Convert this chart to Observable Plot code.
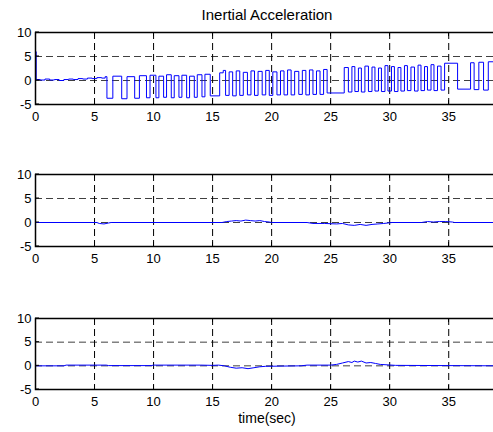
<!DOCTYPE html>
<html><head><meta charset="utf-8">
<script src="https://cdn.jsdelivr.net/npm/d3@7"></script>
<script src="https://cdn.jsdelivr.net/npm/@observablehq/plot@0.6"></script>
<style>
html,body{margin:0;padding:0;background:#fff;overflow:hidden}
#chart{position:relative;width:493px;height:432px;overflow:hidden;font-family:"Liberation Sans",Arial,sans-serif;color:#000;background:#fff}
.panel{position:absolute;left:0;max-width:none !important}
.lbl{position:absolute;left:35px;width:464px;text-align:center;white-space:nowrap;color:#000}
</style></head><body>
<div id="chart"></div>
<script>
// ---- tick labels / axes ----
const xTicks = [0, 5, 10, 15, 20, 25, 30, 35];
const yTicks = [-5, 0, 5, 10];
const xDomain = [0, 39.3];
const yDomain = [-5, 10];
const titleText = "Inertial Acceleration";
const xLabelText = "time(sec)";

// ---- panel 1: square-wave-like signal (transition times and level after each) ----
const accXTime = [0, 0.06, 0.4, 0.8, 1.2, 1.6, 2.0, 2.4, 2.8, 3.2, 3.6, 4.0, 4.4, 4.8, 5.2, 5.6, 5.9,
  6.05, 6.55, 7.3, 7.75, 8.4, 8.8, 9.4, 9.7, 10.2, 10.45, 10.85, 11.1, 11.5, 11.75, 12.15, 12.4,
  12.8, 13.05, 13.45, 13.7, 14.1, 14.35, 14.8, 15.6, 15.9, 16.1, 16.4, 16.7, 17.0, 17.3, 17.6,
  17.95, 18.25, 18.55, 18.85, 19.2, 19.5, 19.8, 20.1, 20.45, 20.75, 21.05, 21.35, 21.65, 21.95,
  22.3, 22.6, 22.9, 23.2, 23.5, 23.8, 24.1, 24.4, 24.7, 26.15, 26.5, 26.8, 27.05, 27.35, 27.6,
  27.9, 28.2, 28.5, 28.75, 29.05, 29.3, 29.6, 29.85, 30.15, 30.4, 30.7, 30.95, 31.25, 31.5, 31.8,
  32.1, 32.4, 32.65, 32.95, 33.2, 33.5, 33.75, 34.05, 34.35, 34.65, 35.75, 36.85, 37.15, 37.55,
  37.95, 38.35, 38.8, 39.3];
const accXValue = [6.0, 0.2, 0.1, 0.3, 0.1, 0.2, 0.0, 0.2, 0.3, 0.2, 0.4, 0.3, 0.5, 0.4, 0.6, 0.5, 0.8,
  -3.7, 0.9, -3.8, 0.8, -3.7, 1.0, -3.6, 1.1, -3.6, 0.9, -3.5, 1.2, -3.6, 1.0, -3.5, 1.1,
  -3.6, 0.9, -3.5, 1.2, -3.4, 1.3, -3.2, 1.6, 2.1, -3.1, 1.8, -3.2, 2.0, -3.1, 1.7,
  -3.0, 2.0, -3.1, 1.9, -3.0, 2.1, -3.1, 1.8, -3.0, 2.0, -3.0, 2.2, -3.0, 1.9,
  -2.9, 2.1, -3.0, 2.2, -2.9, 2.0, -2.9, 2.3, -2.6, 2.7, -2.4, 2.9, -2.3, 2.6, -2.4,
  3.0, -2.3, 2.8, -2.2, 2.6, -2.3, 3.1, -2.2, 2.9, -2.3, 2.7, -2.2, 3.1, -2.1, 2.8,
  -2.2, 3.2, -2.1, 2.9, -2.0, 3.3, -2.1, 3.0, -2.0, 3.6, -1.8, 3.7, -1.9, 3.8,
  -2.0, 3.9, -1.9, -1.9];

// ---- panel 2 ----
const accYTime = [0, 5.2, 5.4, 5.8, 6.2, 6.4, 15.8, 16.2, 16.6, 17.0, 17.4, 17.8, 18.2, 18.6, 19.0,
  19.4, 19.8, 20.0, 23.0, 23.5, 24.5, 25.5, 26.0, 26.5, 27.0, 27.5, 28.0, 28.5, 29.0, 29.5, 30.2,
  32.7, 33.2, 33.7, 34.2, 34.7, 35.3, 35.5, 39.3];
const accYValue = [0, 0, -0.2, -0.3, -0.1, 0, 0, 0.2, 0.3, 0.4, 0.3, 0.5, 0.4, 0.3, 0.4,
  0.2, 0.1, 0, 0, -0.2, -0.2, -0.3, -0.2, -0.5, -0.6, -0.4, -0.6, -0.4, -0.3, -0.2, 0,
  0, 0.2, 0.1, 0.2, 0.2, 0.1, 0, 0];

// ---- panel 3 ----
const accZTime = [0, 2.4, 2.6, 6.0, 6.2, 9.8, 10.0, 14.0, 15.0, 15.5, 16.0, 16.5, 17.0, 17.5, 18.0,
  18.5, 19.0, 19.5, 22.5, 23.0, 25.0, 25.5, 26.0, 26.5, 26.8, 27.0, 27.3, 27.6, 28.0, 28.4, 28.8,
  29.2, 30.5, 39.3];
const accZValue = [0, 0, 0.15, 0.15, 0.05, 0.05, 0.15, 0.15, 0.1, 0.15, 0.0, -0.3, -0.5, -0.4, -0.6,
  -0.4, -0.2, -0.1, 0.0, 0.15, 0.15, 0.3, 0.6, 0.9, 0.7, 1.0, 0.8, 1.0, 0.6, 0.7, 0.5,
  0.3, 0.1, 0];

const toRows = (ts, vs) => ts.map((t, i) => ({t, v: vs[i]}));

function inwardTicks(len) {
  return (index, scales, values, dim) => {
    const {x, y} = scales;
    const g = d3.create("svg:g").attr("stroke", "black").attr("stroke-width", 1);
    const top = dim.marginTop, bottom = dim.height - dim.marginBottom, left = dim.marginLeft;
    for (const t of xTicks) {
      const px = Math.round(x(t)) + 0.5;
      g.append("line").attr("x1", px).attr("x2", px).attr("y1", bottom).attr("y2", bottom - len);
      g.append("line").attr("x1", px).attr("x2", px).attr("y1", top).attr("y2", top + len);
    }
    for (const v of yTicks) {
      const py = y(v);
      g.append("line").attr("x1", left).attr("x2", left + len).attr("y1", py).attr("y2", py);
    }
    return g.node();
  };
}

function panel(rows, curve, mt, innerH, mb) {
  return Plot.plot({
    width: 499,
    height: mt + innerH + mb,
    marginLeft: 35, marginRight: 0, marginTop: mt, marginBottom: mb,
    style: {fontFamily: '"Liberation Sans", Arial, sans-serif', fontSize: "13px", color: "black", background: "transparent", overflow: "visible", maxWidth: "none"},
    x: {domain: xDomain, ticks: xTicks, tickSize: 0, tickPadding: 7, label: null, tickFormat: d => String(d)},
    y: {domain: yDomain, ticks: yTicks, tickSize: 0, tickPadding: 4, label: null, tickFormat: d => (d < 0 ? "-" + Math.abs(d) : String(d))},
    marks: [
      Plot.ruleX(xTicks.filter(d => d > 0), {stroke: "black", strokeWidth: 1, strokeDasharray: "7,4"}),
      Plot.ruleY([0, 5], {stroke: "black", strokeWidth: 1, strokeDasharray: "7,4", strokeOpacity: 0.75}),
      Plot.line(rows, {x: "t", y: "v", stroke: "#0000ff", strokeWidth: 1, curve}),
      Plot.frame({stroke: "black", strokeWidth: 1.5}),
      inwardTicks(4)
    ]
  });
}

const chart = document.getElementById("chart");
const specs = [
  {rows: toRows(accXTime, accXValue), curve: "step-after", top: 0, mt: 32, h: 72, mb: 36},
  {rows: toRows(accYTime, accYValue), curve: "linear", top: 142, mt: 32, h: 72, mb: 36},
  {rows: toRows(accZTime, accZValue), curve: "linear", top: 286, mt: 32, h: 71, mb: 43}
];
for (const s of specs) {
  const svg = panel(s.rows, s.curve, s.mt, s.h, s.mb);
  svg.classList.add("panel");
  svg.style.top = s.top + "px";
  svg.style.maxWidth = "none";
  svg.setAttribute("width", 499);
  chart.appendChild(svg);
}
const title = document.createElement("div");
title.className = "lbl";
title.style.top = "6px";
title.style.fontSize = "15px";
title.style.lineHeight = "18px";
title.textContent = titleText;
chart.appendChild(title);
const xl = document.createElement("div");
xl.className = "lbl";
xl.style.top = "410px";
xl.style.fontSize = "14px";
xl.style.lineHeight = "16px";
xl.textContent = xLabelText;
chart.appendChild(xl);
</script>
</body></html>
